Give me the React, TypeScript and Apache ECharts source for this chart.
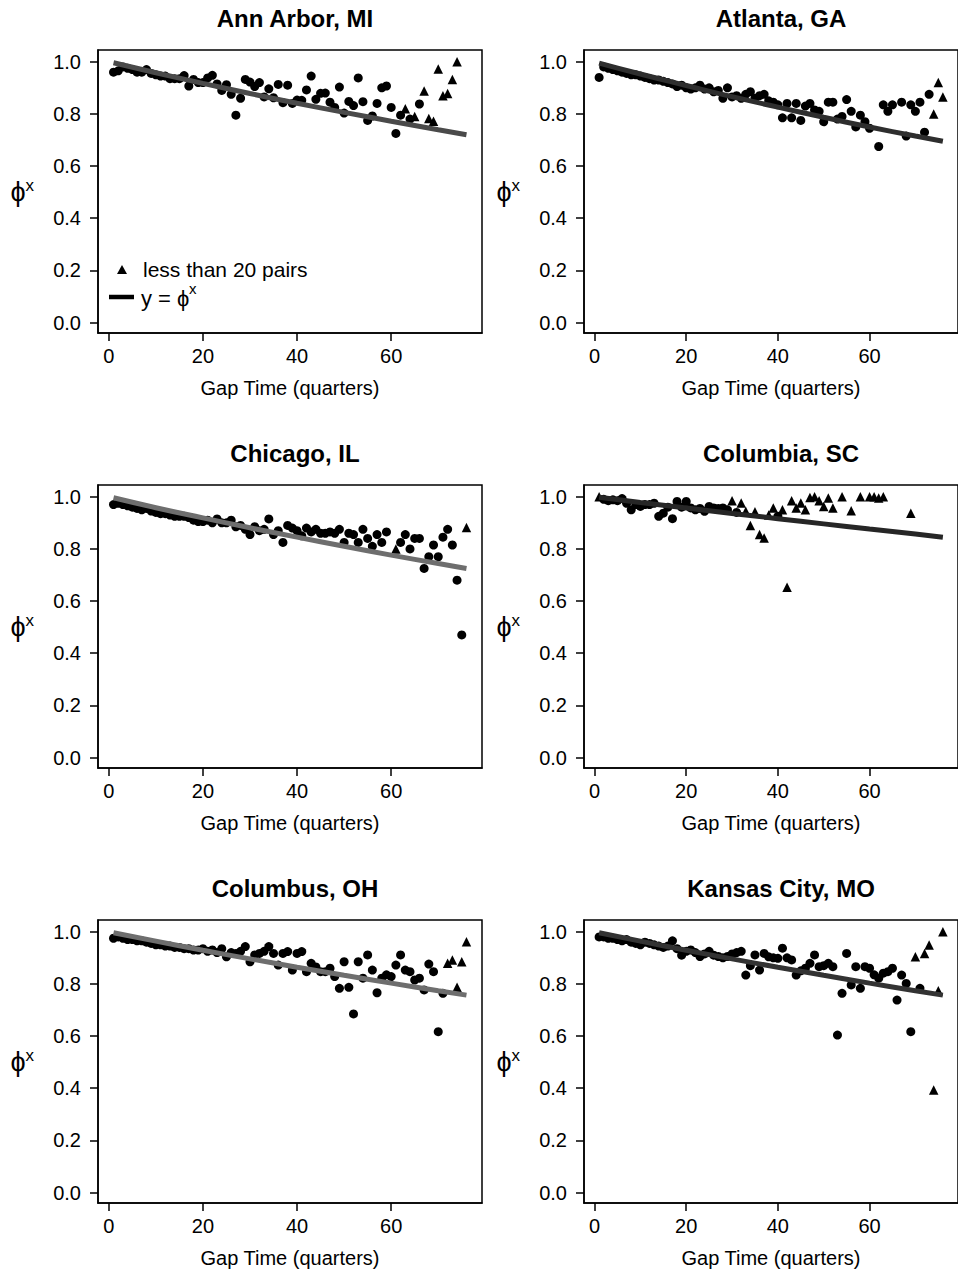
import React, { useEffect, useRef } from "react";
import * as echarts from "echarts";

const FONT = '"Liberation Sans", Arial, Helvetica, sans-serif';

const panelTitles = ["Ann Arbor, MI", "Atlanta, GA", "Chicago, IL", "Columbia, SC", "Columbus, OH", "Kansas City, MO"];
const xTicks = [0, 20, 40, 60];
const yTicks = [0, 0.2, 0.4, 0.6, 0.8, 1.0];
const xAxisTitle = "Gap Time (quarters)";
const legendTriangleLabel = "less than 20 pairs";

// y = phi^x curves, values at these gap times
const curveX = [1, 10, 20, 30, 40, 50, 60, 70, 76];
const annArborCurve = [0.996, 0.958, 0.917, 0.878, 0.841, 0.806, 0.772, 0.739, 0.72];
const atlantaCurve = [0.995, 0.953, 0.909, 0.866, 0.826, 0.787, 0.75, 0.715, 0.695];
const chicagoCurve = [0.996, 0.958, 0.919, 0.881, 0.845, 0.81, 0.776, 0.744, 0.725];
const columbiaCurve = [0.998, 0.978, 0.957, 0.936, 0.916, 0.896, 0.876, 0.857, 0.845];
const columbusCurve = [0.996, 0.964, 0.929, 0.896, 0.864, 0.833, 0.803, 0.774, 0.757];
const kansasCityCurve = [0.996, 0.964, 0.929, 0.896, 0.864, 0.833, 0.803, 0.774, 0.757];

const annArborCircles = [
  [1, 0.96], [2, 0.965], [3, 0.98], [4, 0.975], [5, 0.97], [6, 0.96], [7, 0.96], [8, 0.97], [9, 0.955], [10, 0.95],
  [11, 0.945], [12, 0.945], [13, 0.935], [14, 0.935], [15, 0.935], [16, 0.947], [17, 0.907], [18, 0.932], [19, 0.92], [20, 0.92],
  [21, 0.938], [22, 0.948], [23, 0.915], [24, 0.89], [25, 0.912], [26, 0.875], [27, 0.795], [28, 0.86], [29, 0.932], [30, 0.922],
  [31, 0.905], [32, 0.92], [33, 0.865], [34, 0.896], [35, 0.862], [36, 0.913], [37, 0.843], [38, 0.91], [39, 0.84], [40, 0.853],
  [41, 0.852], [42, 0.892], [43, 0.945], [44, 0.856], [45, 0.879], [46, 0.88], [47, 0.845], [48, 0.825], [49, 0.903], [50, 0.803],
  [51, 0.848], [52, 0.832], [53, 0.938], [54, 0.847], [55, 0.775], [56, 0.792], [57, 0.84], [58, 0.9], [59, 0.907], [60, 0.825],
  [61, 0.725], [62, 0.795], [64, 0.78], [66, 0.838],
];
const annArborTriangles = [
  [63, 0.82], [65, 0.79], [67, 0.888], [68, 0.782], [69, 0.772], [70, 0.972], [71, 0.87], [72, 0.878], [73, 0.932], [74, 1.0],
];

const atlantaCircles = [
  [1, 0.94], [2, 0.98], [3, 0.975], [4, 0.97], [5, 0.965], [6, 0.96], [7, 0.955], [8, 0.95], [9, 0.95], [10, 0.945],
  [11, 0.94], [12, 0.935], [13, 0.93], [14, 0.93], [15, 0.925], [16, 0.92], [17, 0.915], [18, 0.905], [19, 0.91], [20, 0.9],
  [21, 0.895], [22, 0.9], [23, 0.91], [24, 0.895], [25, 0.9], [26, 0.885], [27, 0.89], [28, 0.86], [29, 0.9], [30, 0.865],
  [31, 0.87], [32, 0.86], [33, 0.875], [34, 0.885], [35, 0.86], [36, 0.87], [37, 0.875], [38, 0.85], [39, 0.845], [40, 0.835],
  [41, 0.785], [42, 0.84], [43, 0.785], [44, 0.84], [45, 0.775], [46, 0.83], [47, 0.84], [48, 0.815], [49, 0.81], [50, 0.77],
  [51, 0.845], [52, 0.845], [53, 0.78], [54, 0.79], [55, 0.855], [56, 0.81], [57, 0.75], [58, 0.795], [59, 0.77], [60, 0.745],
  [62, 0.675], [63, 0.835], [64, 0.81], [65, 0.835], [67, 0.845], [68, 0.715], [69, 0.835], [70, 0.81], [71, 0.845], [72, 0.73],
  [73, 0.875],
];
const atlantaTriangles = [[74, 0.8], [75, 0.92], [76, 0.865]];

const chicagoCircles = [
  [1, 0.97], [2, 0.975], [3, 0.97], [4, 0.965], [5, 0.96], [6, 0.955], [7, 0.95], [8, 0.955], [9, 0.945], [10, 0.94],
  [11, 0.935], [12, 0.935], [13, 0.93], [14, 0.925], [15, 0.925], [16, 0.925], [17, 0.92], [18, 0.91], [19, 0.905], [20, 0.905],
  [21, 0.91], [22, 0.9], [23, 0.915], [24, 0.9], [25, 0.9], [26, 0.91], [27, 0.885], [28, 0.89], [29, 0.875], [30, 0.855],
  [31, 0.885], [32, 0.87], [33, 0.875], [34, 0.915], [35, 0.855], [36, 0.87], [37, 0.825], [38, 0.89], [39, 0.88], [40, 0.87],
  [41, 0.85], [42, 0.88], [43, 0.865], [44, 0.875], [45, 0.86], [46, 0.86], [47, 0.865], [48, 0.86], [49, 0.875], [50, 0.825],
  [51, 0.86], [52, 0.855], [53, 0.825], [54, 0.875], [55, 0.84], [56, 0.81], [57, 0.855], [58, 0.825], [59, 0.865], [62, 0.825],
  [63, 0.855], [64, 0.8], [65, 0.84], [66, 0.84], [67, 0.725], [68, 0.77], [69, 0.815], [70, 0.77], [71, 0.845], [72, 0.875],
  [73, 0.815], [74, 0.68], [75, 0.47],
];
const chicagoTriangles = [[61, 0.8], [76, 0.882]];

const columbiaCircles = [
  [2, 0.99], [3, 0.985], [4, 0.988], [5, 0.985], [6, 0.993], [7, 0.975], [8, 0.95], [9, 0.97], [10, 0.963], [11, 0.97],
  [12, 0.97], [13, 0.975], [14, 0.925], [15, 0.937], [16, 0.96], [17, 0.916], [18, 0.982], [19, 0.96], [20, 0.982], [21, 0.957],
  [22, 0.95], [23, 0.955], [24, 0.944], [25, 0.963], [26, 0.957], [27, 0.955], [28, 0.957], [29, 0.95], [31, 0.94], [40, 0.925],
];
const columbiaTriangles = [
  [1, 1.0], [30, 0.985], [32, 0.976], [33, 0.944], [34, 0.89], [35, 0.942], [36, 0.855], [37, 0.842], [38, 0.93], [39, 0.957],
  [41, 0.95], [42, 0.653], [43, 0.985], [44, 0.957], [45, 0.976], [46, 0.95], [47, 0.997], [48, 1.0], [49, 0.985], [50, 0.963],
  [51, 0.995], [52, 0.957], [54, 1.0], [56, 0.946], [58, 1.0], [60, 1.0], [61, 1.0], [62, 0.995], [63, 1.0], [69, 0.937],
];

const columbusCircles = [
  [1, 0.975], [2, 0.98], [3, 0.975], [4, 0.97], [5, 0.97], [6, 0.965], [7, 0.965], [8, 0.96], [9, 0.955], [10, 0.95],
  [11, 0.95], [12, 0.945], [13, 0.945], [14, 0.94], [15, 0.94], [16, 0.935], [17, 0.935], [18, 0.93], [19, 0.93], [20, 0.935],
  [21, 0.925], [22, 0.93], [23, 0.92], [24, 0.935], [25, 0.904], [26, 0.92], [27, 0.917], [28, 0.925], [29, 0.943], [30, 0.885],
  [31, 0.911], [32, 0.917], [33, 0.925], [34, 0.943], [35, 0.917], [36, 0.872], [37, 0.917], [38, 0.924], [39, 0.853], [40, 0.917],
  [41, 0.924], [42, 0.847], [43, 0.879], [44, 0.865], [45, 0.847], [46, 0.847], [47, 0.86], [48, 0.828], [49, 0.783], [50, 0.885],
  [51, 0.787], [52, 0.685], [53, 0.885], [54, 0.822], [55, 0.911], [56, 0.853], [57, 0.766], [58, 0.822], [59, 0.835], [60, 0.828],
  [61, 0.872], [62, 0.911], [63, 0.853], [64, 0.847], [65, 0.815], [66, 0.822], [67, 0.777], [68, 0.876], [69, 0.847], [70, 0.617],
  [71, 0.764],
];
const columbusTriangles = [[72, 0.879], [73, 0.892], [74, 0.787], [75, 0.885], [76, 0.962]];

const kansasCityCircles = [
  [1, 0.98], [2, 0.98], [3, 0.975], [4, 0.975], [5, 0.97], [6, 0.965], [7, 0.97], [8, 0.96], [9, 0.955], [10, 0.95],
  [11, 0.96], [12, 0.955], [13, 0.95], [14, 0.945], [15, 0.94], [16, 0.945], [17, 0.965], [18, 0.935], [19, 0.91], [20, 0.925],
  [21, 0.93], [22, 0.92], [23, 0.905], [24, 0.915], [25, 0.925], [26, 0.91], [27, 0.905], [28, 0.9], [29, 0.905], [30, 0.915],
  [31, 0.92], [32, 0.925], [33, 0.834], [34, 0.87], [35, 0.911], [36, 0.853], [37, 0.917], [38, 0.904], [39, 0.9], [40, 0.898],
  [41, 0.937], [42, 0.9], [43, 0.892], [44, 0.834], [45, 0.85], [46, 0.86], [47, 0.879], [48, 0.911], [49, 0.866], [50, 0.87],
  [51, 0.879], [52, 0.866], [53, 0.604], [54, 0.764], [55, 0.917], [56, 0.796], [57, 0.866], [58, 0.783], [59, 0.866], [60, 0.86],
  [61, 0.835], [62, 0.822], [63, 0.841], [64, 0.847], [65, 0.86], [66, 0.738], [67, 0.834], [68, 0.802], [69, 0.617], [71, 0.783],
];
const kansasCityTriangles = [[70, 0.904], [72, 0.917], [73, 0.949], [74, 0.393], [75, 0.774], [76, 1.0]];

const panelCircles = [annArborCircles, atlantaCircles, chicagoCircles, columbiaCircles, columbusCircles, kansasCityCircles];
const panelTriangles = [annArborTriangles, atlantaTriangles, chicagoTriangles, columbiaTriangles, columbusTriangles, kansasCityTriangles];
const panelCurves = [annArborCurve, atlantaCurve, chicagoCurve, columbiaCurve, columbusCurve, kansasCityCurve];
const curveColors = ["#4a4a4a", "#2e2e2e", "#6e6e6e", "#262626", "#6e6e6e", "#333333"];

const COL_LEFT = [98, 584];
const ROW_TOP = [50, 485, 920];
const GRID_W = 384;
const GRID_H = 283;

export default function App() {
  const ref = useRef<HTMLDivElement>(null);

  useEffect(() => {
    if (!ref.current) return;
    const chart = echarts.init(ref.current, null, { renderer: "svg" });

    const grids: any[] = [];
    const xAxes: any[] = [];
    const yAxes: any[] = [];
    const series: any[] = [];
    const titles: any[] = [];

    for (let i = 0; i < 6; i++) {
      const col = i % 2;
      const row = Math.floor(i / 2);
      const left = COL_LEFT[col];
      const top = ROW_TOP[row];
      grids.push({
        left, top, width: GRID_W, height: GRID_H,
        show: true, borderColor: "#000", borderWidth: 1.5, backgroundColor: "transparent",
        containLabel: false,
      });
      titles.push({
        text: panelTitles[i],
        left: left + GRID_W / 2,
        top: top - 49,
        textAlign: "center",
        textStyle: { fontFamily: FONT, fontWeight: "bold", fontSize: 24, color: "#000" },
      });
      xAxes.push({
        type: "value", gridIndex: i, min: -2.3, max: 79.3,
        splitLine: { show: false },
        axisLine: { show: true, onZero: false, lineStyle: { color: "#000", width: 1.5 } },
        axisTick: { show: true, length: 8, customValues: xTicks, lineStyle: { color: "#000", width: 1.5 } },
        axisLabel: { customValues: xTicks, margin: 13, fontSize: 20, color: "#000", fontFamily: FONT },
        name: xAxisTitle, nameLocation: "middle", nameGap: 45,
        nameTextStyle: { fontSize: 20, color: "#000", fontFamily: FONT },
      });
      yAxes.push({
        type: "value", gridIndex: i, min: -0.04, max: 1.045,
        splitLine: { show: false },
        axisLine: { show: true, onZero: false, lineStyle: { color: "#000", width: 1.5 } },
        axisTick: { show: true, length: 8, customValues: yTicks, lineStyle: { color: "#000", width: 1.5 } },
        axisLabel: {
          customValues: yTicks, margin: 17, fontSize: 20, color: "#000", fontFamily: FONT,
          formatter: (v: number) => v.toFixed(1),
        },
        name: "{p|ϕ}{s|x}", nameLocation: "middle", nameRotate: 0, nameGap: 64,
        nameTextStyle: {
          color: "#000",
          rich: {
            p: { fontSize: 27, fontFamily: FONT, color: "#000", lineHeight: 30 },
            s: { fontSize: 17, fontFamily: FONT, color: "#000", verticalAlign: "top", lineHeight: 17 },
          },
        },
      });
      series.push({
        type: "scatter", name: "pairs", xAxisIndex: i, yAxisIndex: i,
        data: panelCircles[i], symbol: "circle", symbolSize: 9,
        itemStyle: { color: "#000", opacity: 1 }, z: 2,
      });
      series.push({
        type: "scatter", name: legendTriangleLabel, xAxisIndex: i, yAxisIndex: i,
        data: panelTriangles[i], symbol: "triangle", symbolSize: 9.5,
        itemStyle: { color: "#000", opacity: 1 }, z: 2,
      });
      series.push({
        type: "line", name: "y = ϕ^x", xAxisIndex: i, yAxisIndex: i,
        data: curveX.map((x, k) => [x, panelCurves[i][k]]),
        showSymbol: false, smooth: true,
        lineStyle: { color: curveColors[i], width: 5 }, z: 3,
      });
    }

    const graphic: any[] = [
      {
        type: "polygon",
        shape: { points: [[117, 274], [127, 274], [122, 265]] },
        style: { fill: "#000" },
      },
      {
        type: "text", x: 143, y: 269,
        style: { text: legendTriangleLabel, fontSize: 21, fontFamily: FONT, fill: "#000", verticalAlign: "middle" },
      },
      {
        type: "line", shape: { x1: 109, y1: 297, x2: 134, y2: 297 },
        style: { stroke: "#000", lineWidth: 4.5 },
      },
      {
        type: "text", x: 141, y: 298,
        style: { text: "y = ϕ", fontSize: 22, fontFamily: FONT, fill: "#000", verticalAlign: "middle" },
      },
      {
        type: "text", x: 189, y: 288,
        style: { text: "x", fontSize: 15, fontFamily: FONT, fill: "#000", verticalAlign: "middle" },
      },
    ];

    chart.setOption({
      animation: false,
      backgroundColor: "#fff",
      title: titles,
      grid: grids,
      xAxis: xAxes,
      yAxis: yAxes,
      series,
      graphic,
    });

    return () => chart.dispose();
  }, []);

  return (
    <div
      ref={ref}
      style={{ position: "absolute", left: 0, top: 0, width: 958, height: 1271, background: "#fff" }}
    />
  );
}
